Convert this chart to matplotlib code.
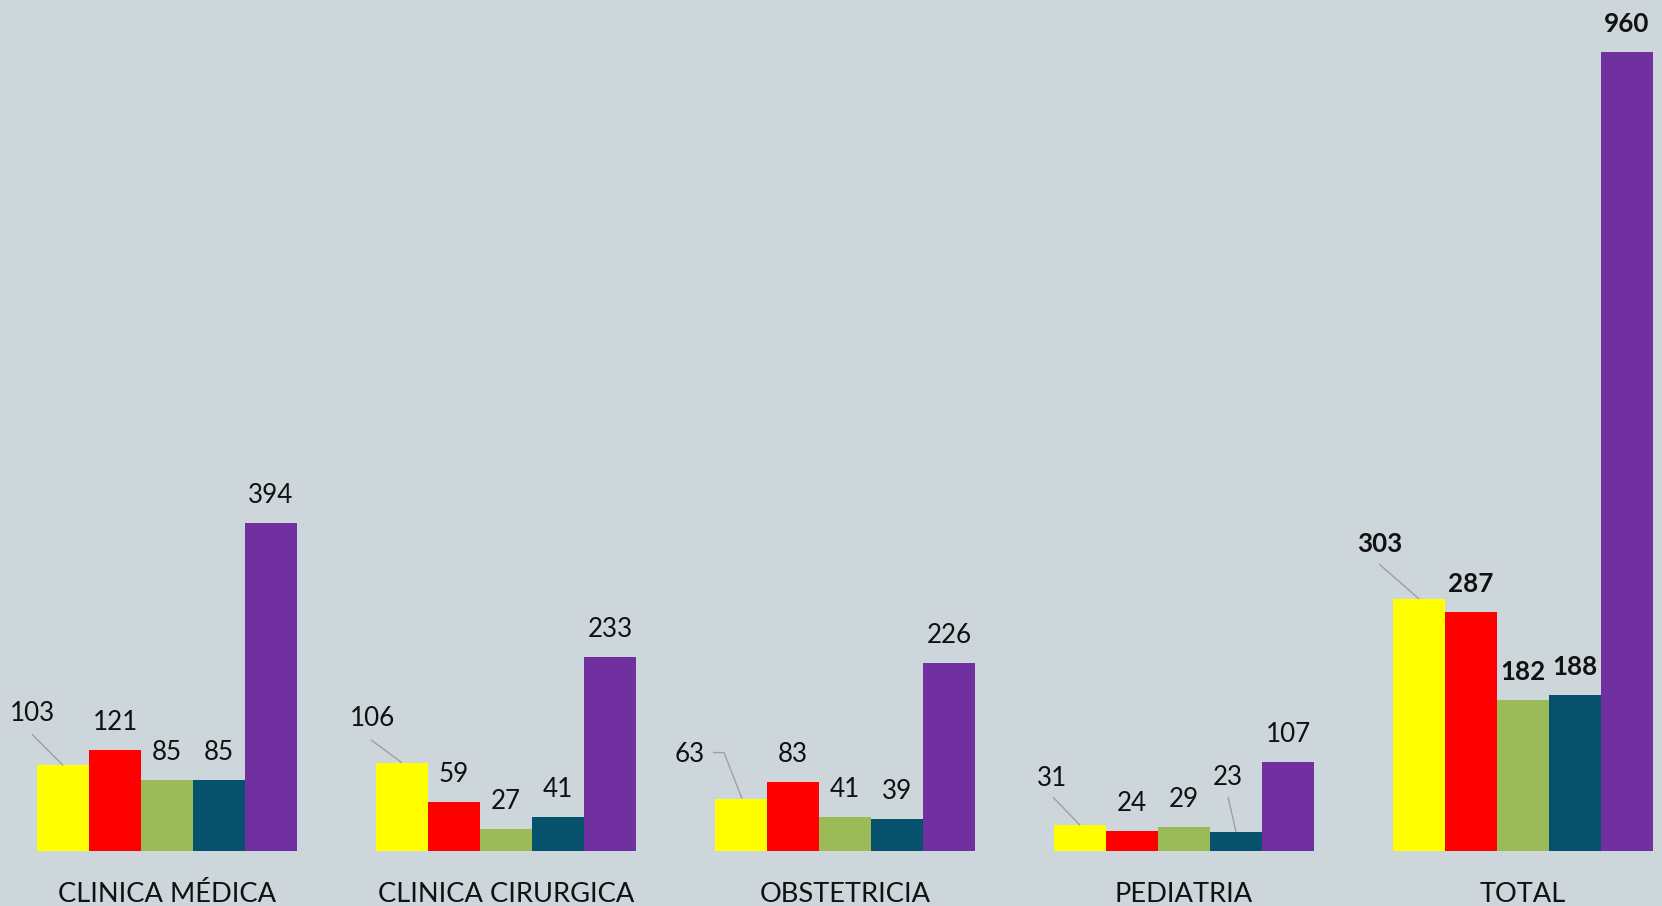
import matplotlib
matplotlib.use("Agg")
import matplotlib.pyplot as plt
import matplotlib.transforms as mtransforms
import numpy as np

categories = ["CLINICA MÉDICA", "CLINICA CIRURGICA", "OBSTETRICIA", "PEDIATRIA", "TOTAL"]
series1 = [103, 106, 63, 31, 303]   # yellow
series2 = [121, 59, 83, 24, 287]    # red
series3 = [85, 27, 41, 29, 182]     # green
series4 = [85, 41, 39, 23, 188]     # teal
series5 = [394, 233, 226, 107, 960] # purple
series = [series1, series2, series3, series4, series5]
colors = ["#FFFF00", "#FF0000", "#9BBB59", "#06516B", "#7030A0"]

plt.rcParams['font.family'] = ['Lato', 'DejaVu Sans']

fig = plt.figure(figsize=(16.62, 9.06), dpi=100)
bg = "#CDD6DA"
fig.patch.set_facecolor(bg)
ax = fig.add_axes([0, 0, 1, 1])
ax.set_facecolor(bg)
for s in ax.spines.values():
    s.set_visible(False)
ax.set_xticks([])
ax.set_yticks([])

ax.set_xlim(-0.4926, 4.410)
ax.set_ylim(-66.1, 1022.8)

x = np.arange(len(categories))
w = 52 / 339.0

# leader-line labels: (series idx, cat idx) -> (text offset px, line path px)
leaders = {
    (0, 0): ((-31, 52), [(-31, 31), (0, 0)]),
    (0, 1): ((-30, 44), [(-31, 23), (0, 0)]),
    (0, 2): ((-51, 44), [(-28, 46), (-17, 46), (1, 0)]),
    (0, 3): ((-28, 47), [(-27, 28), (0, 0)]),
    (3, 3): ((-8, 54), [(-8, 35), (0, 0)]),
    (0, 4): ((-39, 55), [(-40, 35), (0, 0)]),
}

fs = 18.7
cfs = 19.6
txtcol = "#111111"
for si, vals in enumerate(series):
    xs = x + (si - 2) * w
    ax.bar(xs, vals, width=w, color=colors[si], linewidth=0, zorder=2)
    for ci, (xx, v) in enumerate(zip(xs, vals)):
        weight = 'bold' if ci == len(categories) - 1 else 'normal'
        key = (si, ci)
        if key in leaders:
            (tdx, tdy), path = leaders[key]
            ax.annotate(str(v), (xx, v), xytext=(tdx, tdy), textcoords='offset pixels',
                        ha='center', va='center', fontsize=fs, color=txtcol,
                        fontweight=weight, zorder=4)
            bx, by = ax.transData.transform((xx, v))
            tr = mtransforms.Affine2D().translate(bx, by)
            px = [p[0] for p in path]
            py = [p[1] for p in path]
            ax.plot(px, py, transform=tr, color="#A0A0A0", lw=1.0, zorder=3,
                    solid_capstyle='butt')
        else:
            ax.annotate(str(v), (xx, v), xytext=(0, 20), textcoords='offset pixels',
                        ha='center', va='baseline', fontsize=fs, color=txtcol,
                        fontweight=weight, zorder=4)

for ci, name in enumerate(categories):
    ax.text(x[ci], -61, name, ha='center', va='baseline', fontsize=cfs, color=txtcol)

fig.savefig("out.png", dpi=100, facecolor=bg)
